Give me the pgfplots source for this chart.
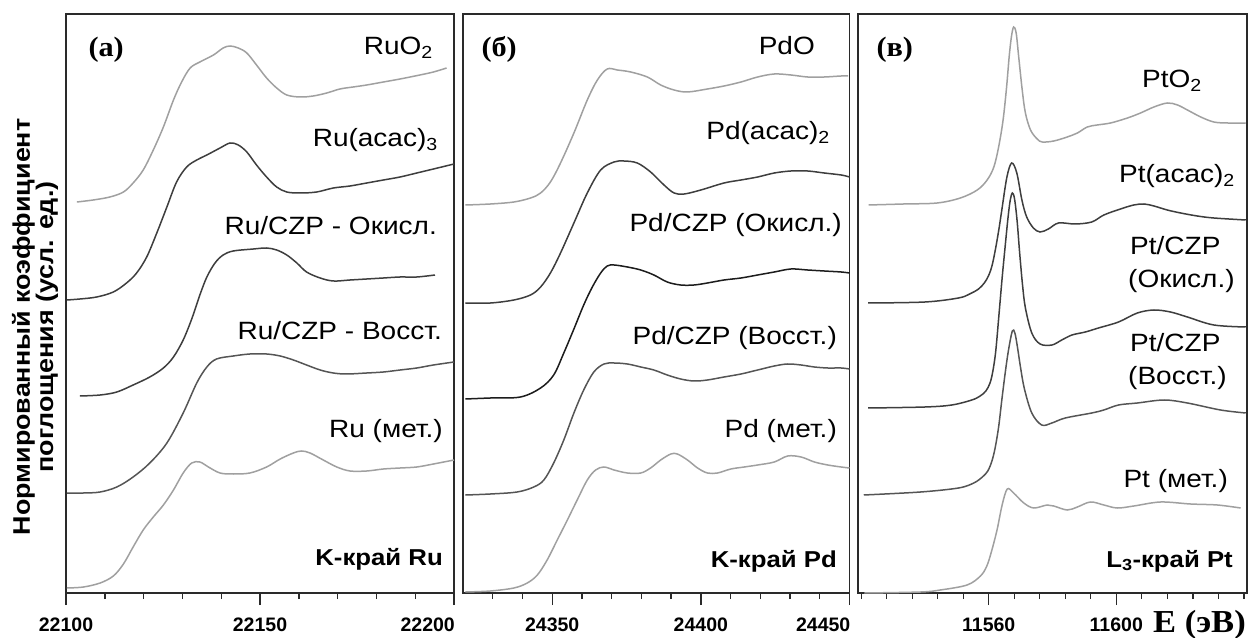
\documentclass[border=0pt]{standalone}
\usepackage{fontspec}
\usepackage{pgfplots}
\pgfplotsset{compat=1.18}
\setmainfont{Liberation Sans}
\newfontfamily\labsans[FakeStretch=1.12]{Liberation Sans}
\newfontfamily\labserif[FakeStretch=1.08]{Liberation Serif}

\newcommand\curvefont{\labsans\fontsize{25}{28}\selectfont}
\newcommand\edgefont{\labsans\bfseries\fontsize{23}{26}\selectfont}
\newcommand\panelfont{\labserif\bfseries\fontsize{28}{30}\selectfont}
\newcommand\tickfont{\bfseries\fontsize{19.5}{22}\selectfont}

\definecolor{axcol}{HTML}{2A2A2A}
\definecolor{light}{HTML}{A0A0A0}
\definecolor{dark}{HTML}{3E3E3E}
\definecolor{mid}{HTML}{555555}
\definecolor{blk}{HTML}{1C1C1C}

\pgfplotsset{
  xanes/.style={
    scale only axis, anchor=south west, height=579pt,
    ymin=0, ymax=5.79, ytick=\empty,
    axis line style={line width=1.6pt, color=axcol},
    tick style={line width=1.4pt, color=axcol},
    tick align=outside, xtick pos=lower,
    major tick length=12pt, minor tick length=6pt,
    xticklabel style={font=\tickfont, anchor=base, yshift=-26pt, inner sep=0pt},
    extra x tick style={xticklabel style={anchor=base east, xshift=1pt}},
    every axis plot/.append style={line width=1.5pt, smooth, tension=0.55},
  }
}

\begin{document}
\begin{tikzpicture}
\useasboundingbox (0,0) rectangle (1249pt,637pt);

% ---------------- Ru K-edge ----------------
\begin{axis}[xanes, at={(66pt,44pt)}, width=388pt,
  xmin=22100, xmax=22200,
  xtick={22100,22150}, xticklabels={22100,22150},
  extra x ticks={22200}, extra x tick labels={22200},
  minor xtick={22110,22120,22130,22140,22160,22170,22180,22190}]
% RuO2
\addplot[light] coordinates {
(22102.8,3.91) (22107.0,3.93) (22111.3,3.96) (22114.8,4.01) (22117.3,4.10)
(22119.9,4.23) (22122.5,4.43) (22125.1,4.66) (22127.7,4.93) (22129.8,5.11)
(22132.0,5.25) (22134.5,5.31) (22138.0,5.38) (22140.5,5.45) (22142.3,5.47)
(22144.4,5.45) (22146.6,5.40) (22149.1,5.28) (22151.7,5.15) (22154.3,5.05)
(22156.9,4.98) (22160.3,4.96) (22163.7,4.97) (22167.2,5.00) (22170.6,5.04)
(22174.0,5.06) (22177.5,5.08) (22181.8,5.11) (22186.1,5.14) (22191.2,5.18)
(22194.7,5.21) (22198.1,5.25)};
% Ru(acac)3
\addplot[dark] coordinates {
(22100.2,2.93) (22103.6,2.94) (22107.9,2.96) (22112.2,3.01) (22115.6,3.10)
(22118.2,3.20) (22120.8,3.36) (22123.4,3.60) (22126.0,3.86) (22128.5,4.11)
(22131.1,4.26) (22133.7,4.33) (22136.3,4.38) (22139.7,4.45) (22142.3,4.50)
(22144.4,4.48) (22146.6,4.41) (22149.1,4.28) (22151.7,4.16) (22154.3,4.06)
(22156.9,4.01) (22160.3,4.00) (22164.6,4.01) (22168.9,4.05) (22173.2,4.07)
(22177.5,4.10) (22181.8,4.13) (22186.1,4.16) (22190.4,4.20) (22194.7,4.24)
(22200.0,4.29)};
% Ru/CZP oxidised
\addplot[dark] coordinates {
(22103.6,1.97) (22108.8,1.98) (22113.1,2.01) (22117.3,2.08) (22121.6,2.16)
(22125.1,2.25) (22127.7,2.36) (22130.2,2.53) (22132.4,2.74) (22134.5,2.98)
(22136.3,3.16) (22138.4,3.30) (22140.5,3.38) (22143.1,3.42) (22148.3,3.44)
(22151.7,3.45) (22154.3,3.43) (22156.9,3.38) (22159.5,3.30) (22162.0,3.21)
(22165.5,3.15) (22168.9,3.12) (22173.2,3.13) (22177.5,3.14) (22181.8,3.15)
(22186.1,3.16) (22190.4,3.16) (22195.1,3.18)};
% Ru/CZP reduced
\addplot[mid] coordinates {
(22100.2,1.00) (22104.5,1.00) (22108.8,1.01) (22113.1,1.06) (22117.3,1.16)
(22121.6,1.30) (22126.0,1.50) (22130.2,1.80) (22133.7,2.10) (22136.3,2.26)
(22138.8,2.34) (22143.1,2.37) (22147.4,2.39) (22151.7,2.39) (22155.2,2.37)
(22158.6,2.33) (22162.0,2.28) (22165.5,2.23) (22168.9,2.20) (22172.3,2.19)
(22177.5,2.20) (22181.8,2.21) (22186.1,2.23) (22190.4,2.25) (22194.7,2.28)
(22200.0,2.31)};
% Ru metal
\addplot[light] coordinates {
(22100.2,0.05) (22104.5,0.06) (22108.8,0.10) (22112.2,0.17) (22114.8,0.29)
(22117.3,0.46) (22119.9,0.63) (22122.5,0.76) (22125.1,0.88) (22127.7,1.03)
(22130.2,1.20) (22132.4,1.30) (22134.5,1.31) (22136.7,1.26) (22139.7,1.20)
(22143.1,1.19) (22147.4,1.20) (22151.7,1.26) (22155.2,1.34) (22158.6,1.40)
(22160.7,1.42) (22162.9,1.40) (22166.3,1.33) (22169.8,1.26) (22173.2,1.22)
(22177.5,1.22) (22181.8,1.24) (22186.1,1.25) (22190.4,1.26) (22194.7,1.29)
(22200.0,1.33)};
\end{axis}

% ---------------- Pd K-edge ----------------
\begin{axis}[xanes, at={(463pt,44pt)}, width=386.5pt,
  xmin=24320, xmax=24450,
  xtick={24350,24400}, xticklabels={24350,24400},
  extra x ticks={24450}, extra x tick labels={24450},
  minor xtick={24330,24340,24360,24370,24380,24390,24410,24420,24430,24440}]
% PdO
\addplot[light] coordinates {
(24320.8,3.88) (24329.2,3.89) (24337.1,3.91) (24342.7,3.95) (24346.1,4.00)
(24349.4,4.11) (24352.8,4.30) (24357.3,4.60) (24361.8,4.93) (24365.2,5.13)
(24368.5,5.24) (24371.9,5.23) (24376.4,5.21) (24382.0,5.16) (24386.5,5.08)
(24391.0,5.03) (24395.5,5.01) (24402.2,5.04) (24407.8,5.07) (24413.5,5.11)
(24419.1,5.16) (24424.7,5.19) (24430.3,5.18) (24435.9,5.16) (24441.5,5.16)
(24447.2,5.17) (24449.5,5.17)};
% Pd(acac)2
\addplot[dark] coordinates {
(24320.8,2.90) (24329.2,2.90) (24337.1,2.93) (24342.7,2.98) (24346.1,3.06)
(24349.4,3.20) (24352.8,3.40) (24357.3,3.70) (24361.8,4.00) (24366.3,4.23)
(24370.8,4.31) (24374.1,4.32) (24378.6,4.30) (24383.1,4.21) (24387.6,4.08)
(24391.0,4.00) (24394.4,3.99) (24400.0,4.03) (24407.8,4.10) (24413.5,4.13)
(24419.1,4.16) (24424.7,4.20) (24430.3,4.22) (24435.9,4.22) (24441.5,4.20)
(24447.2,4.18) (24450.0,4.16)};
% Pd/CZP oxidised
\addplot[blk] coordinates {
(24320.8,1.94) (24329.2,1.95) (24339.3,1.96) (24346.1,2.05) (24350.5,2.18)
(24353.9,2.40) (24357.3,2.64) (24360.6,2.88) (24363.5,3.06) (24366.3,3.20)
(24368.5,3.27) (24370.8,3.28) (24375.3,3.26) (24379.8,3.23) (24384.2,3.18)
(24388.7,3.11) (24393.2,3.08) (24397.7,3.08) (24402.2,3.10) (24407.8,3.13)
(24413.5,3.15) (24419.1,3.18) (24424.7,3.21) (24430.3,3.24) (24435.9,3.23)
(24441.5,3.22) (24447.2,3.21) (24450.0,3.20)};
% Pd/CZP reduced
\addplot[mid] coordinates {
(24320.8,0.98) (24329.2,0.99) (24338.2,1.01) (24343.8,1.06) (24347.2,1.13)
(24350.5,1.30) (24353.9,1.53) (24357.3,1.80) (24360.6,2.03) (24364.0,2.21)
(24367.4,2.29) (24370.8,2.30) (24375.3,2.29) (24379.8,2.26) (24384.2,2.23)
(24388.7,2.18) (24393.2,2.14) (24397.7,2.12) (24402.2,2.13) (24407.8,2.16)
(24413.5,2.19) (24419.1,2.23) (24424.7,2.27) (24429.2,2.29) (24433.7,2.28)
(24438.2,2.26) (24442.7,2.25) (24447.2,2.25) (24450.0,2.24)};
% Pd metal
\addplot[light] coordinates {
(24320.8,0.01) (24329.2,0.02) (24337.1,0.05) (24341.6,0.10) (24345.0,0.18)
(24348.3,0.33) (24351.7,0.53) (24355.1,0.73) (24358.4,0.93) (24361.8,1.13)
(24364.6,1.23) (24367.4,1.26) (24370.8,1.23) (24375.3,1.20) (24379.8,1.20)
(24383.1,1.25) (24386.5,1.33) (24389.9,1.39) (24392.1,1.39) (24395.5,1.33)
(24398.9,1.25) (24402.2,1.20) (24405.6,1.20) (24410.1,1.24) (24414.6,1.26)
(24419.1,1.28) (24424.7,1.31) (24429.2,1.37) (24433.7,1.36) (24438.2,1.31)
(24442.7,1.28) (24447.2,1.26) (24450.0,1.25)};
\end{axis}

% ---------------- Pt L3-edge ----------------
\begin{axis}[xanes, at={(858pt,44pt)}, width=389pt,
  xmin=11519, xmax=11641,
  xtick={11560,11600}, xticklabels={11560,11600},
  minor xtick={11520,11528,11536,11544,11552,11568,11576,11584,11592,11608,11616,11624,11632,11640}]
% PtO2
\addplot[light] coordinates {
(11522.3,3.88) (11533.3,3.89) (11543.8,3.90) (11551.1,3.95) (11556.4,4.03)
(11559.5,4.13) (11561.6,4.26) (11563.1,4.46) (11564.5,4.73) (11565.6,5.06)
(11566.4,5.36) (11567.1,5.56) (11567.8,5.66) (11568.6,5.60) (11569.4,5.36)
(11570.5,5.03) (11571.5,4.80) (11573.1,4.63) (11575.2,4.54) (11576.8,4.51)
(11580.4,4.52) (11584.6,4.56) (11587.8,4.60) (11590.9,4.66) (11594.0,4.68)
(11598.2,4.70) (11603.5,4.75) (11607.6,4.80) (11611.8,4.86) (11616.0,4.90)
(11619.2,4.88) (11622.3,4.83) (11626.5,4.76) (11630.6,4.71) (11634.9,4.70)
(11640.6,4.70)};
% Pt(acac)2
\addplot[dark] coordinates {
(11522.2,2.90) (11540.0,2.91) (11550.5,2.95) (11554.0,2.99) (11556.8,3.04)
(11558.6,3.10) (11559.9,3.17) (11561.0,3.27) (11562.0,3.42) (11563.1,3.62)
(11564.1,3.83) (11565.7,4.16) (11567.2,4.30) (11568.8,4.20) (11570.4,3.93)
(11571.9,3.76) (11574.0,3.65) (11576.1,3.61) (11578.7,3.64) (11581.9,3.70)
(11587.1,3.69) (11592.3,3.71) (11596.1,3.78) (11601.3,3.84) (11605.5,3.88)
(11608.7,3.89) (11611.8,3.87) (11616.0,3.83) (11620.2,3.80) (11625.4,3.77)
(11630.6,3.75) (11640.6,3.73)};
% Pt/CZP oxidised
\addplot[dark] coordinates {
(11522.2,1.85) (11540.0,1.86) (11548.4,1.88) (11554.7,1.93) (11557.3,1.97)
(11559.1,2.02) (11560.4,2.10) (11561.3,2.22) (11562.2,2.42) (11563.2,2.78)
(11564.2,3.15) (11565.1,3.45) (11566.0,3.74) (11566.7,3.92) (11567.4,4.00)
(11568.1,3.94) (11568.9,3.72) (11569.7,3.40) (11570.6,3.08) (11571.5,2.85)
(11573.5,2.60) (11576.1,2.49) (11579.8,2.48) (11582.9,2.53) (11586.1,2.58)
(11590.3,2.61) (11594.4,2.65) (11600.7,2.71) (11606.6,2.80) (11611.8,2.83)
(11617.0,2.81) (11622.3,2.76) (11630.6,2.68) (11640.6,2.66)};
% Pt/CZP reduced
\addplot[mid] coordinates {
(11520.8,0.98) (11538.6,1.01) (11550.5,1.05) (11555.3,1.10) (11558.0,1.16)
(11559.7,1.22) (11561.0,1.32) (11562.0,1.45) (11563.1,1.66) (11564.1,1.93)
(11565.2,2.21) (11566.2,2.43) (11567.4,2.62) (11568.2,2.60) (11569.0,2.46)
(11570.0,2.25) (11571.2,2.04) (11573.5,1.80) (11576.6,1.68) (11579.8,1.70)
(11584.0,1.75) (11592.3,1.80) (11596.1,1.83) (11600.7,1.88) (11606.6,1.90)
(11615.0,1.93) (11622.3,1.90) (11632.7,1.83) (11640.6,1.80)};
% Pt metal
\addplot[light] coordinates {
(11521.0,0.00) (11538.6,0.01) (11544.8,0.03) (11553.2,0.08) (11557.4,0.17)
(11559.4,0.27) (11560.9,0.42) (11562.6,0.63) (11564.2,0.88) (11565.8,1.04)
(11567.8,1.00) (11571.0,0.90) (11574.1,0.85) (11578.3,0.88) (11580.4,0.87)
(11584.6,0.83) (11587.8,0.86) (11591.9,0.91) (11596.1,0.88) (11600.3,0.85)
(11605.5,0.87) (11613.9,0.91) (11623.3,0.89) (11631.7,0.88) (11639.0,0.85)};
\end{axis}

% ---------------- annotations ----------------
\node[rotate=90, align=center, font=\labsans\bfseries\fontsize{24}{21.5}\selectfont]
  at (35pt,310pt) {Нормированный коэффициент\\поглощения (усл. ед.)};

\node[anchor=base west, font=\panelfont] at (85pt,580pt) {(а)};
\node[anchor=base west, font=\panelfont] at (478pt,580pt) {(б)};
\node[anchor=base west, font=\panelfont] at (873pt,580pt) {(в)};

\begin{scope}[every node/.style={anchor=base east, inner sep=0pt, font=\curvefont}]
\node at (433pt,582pt) {RuO\textsubscript{2}};
\node at (438pt,490pt) {Ru(acac)\textsubscript{3}};
\node at (437pt,402pt) {Ru/CZP - Окисл.};
\node at (442pt,297pt) {Ru/CZP - Восст.};
\node at (443pt,199pt) {Ru (мет.)};
\node at (815pt,582pt) {PdO};
\node at (830pt,497pt) {Pd(acac)\textsubscript{2}};
\node at (842pt,405pt) {Pd/CZP (Окисл.)};
\node at (837pt,292pt) {Pd/CZP (Восст.)};
\node at (837pt,199pt) {Pd (мет.)};
\node at (1202pt,549pt) {PtO\textsubscript{2}};
\node at (1235pt,454pt) {Pt(acac)\textsubscript{2}};
\node at (1228pt,149pt) {Pt (мет.)};
\end{scope}
\begin{scope}[every node/.style={anchor=base west, inner sep=0pt, font=\curvefont}]
\node at (1130pt,382pt) {Pt/CZP};
\node at (1128pt,349pt) {(Окисл.)};
\node at (1130pt,285pt) {Pt/CZP};
\node at (1128pt,252pt) {(Восст.)};
\end{scope}
\begin{scope}[every node/.style={anchor=base east, inner sep=0pt, font=\edgefont}]
\node at (443pt,72pt) {K-край Ru};
\node at (837pt,70pt) {K-край Pd};
\node at (1233pt,70pt) {L\textsubscript{3}-край Pt};
\end{scope}
\node[anchor=base east, inner sep=0pt, font=\labserif\bfseries\fontsize{32}{34}\selectfont]
  at (1246pt,5pt) {E (эВ)};
\end{tikzpicture}
\end{document}
